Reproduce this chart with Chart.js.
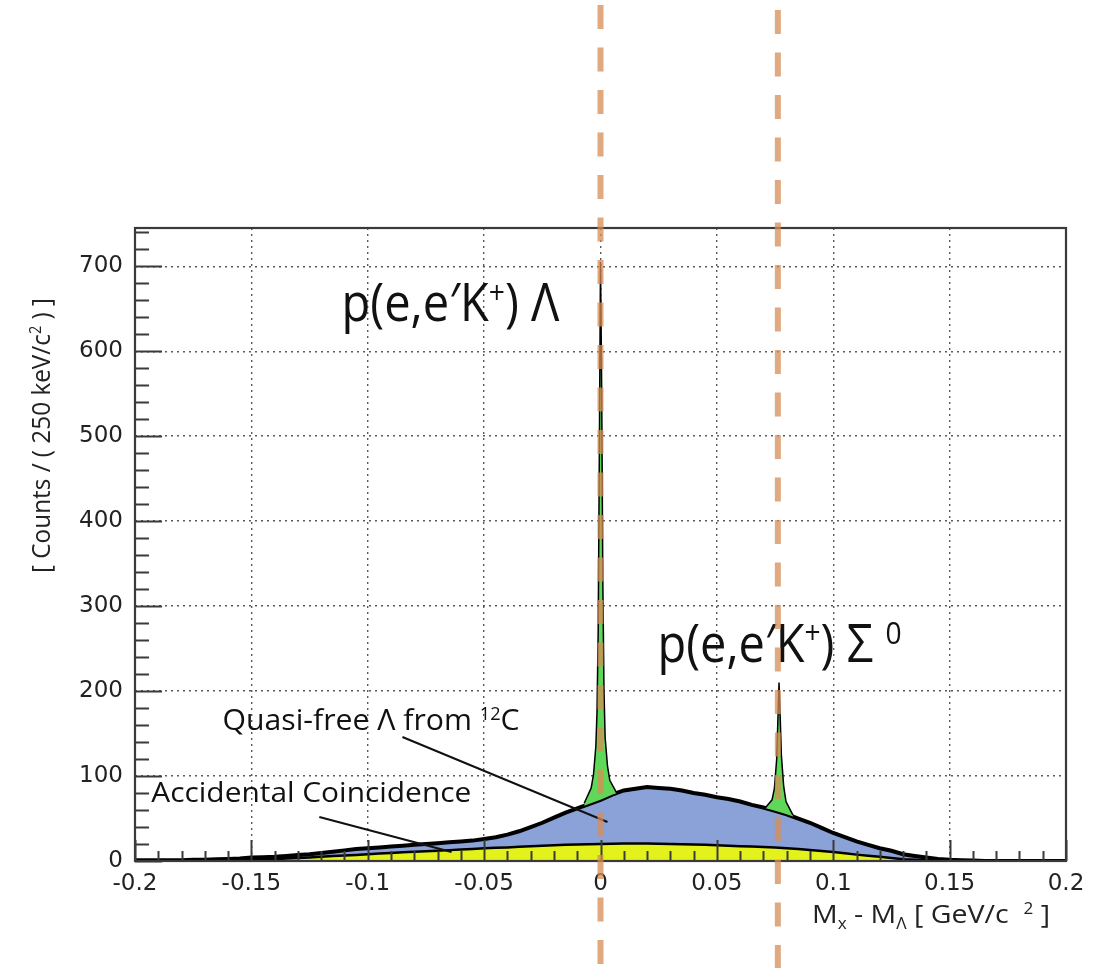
<!DOCTYPE html>
<html>
<head>
<meta charset="utf-8">
<script src="https://cdn.jsdelivr.net/npm/chart.js@4.4.0/dist/chart.umd.min.js"></script>
<style>
  html, body { margin: 0; padding: 0; background: #fff; }
  #wrap { width: 1107px; height: 968px; }
</style>
</head>
<body>
<div id="wrap"><canvas id="chart-masa" width="1107" height="968"></canvas></div>
<script>
// === DATOS ===
// eje x: Mx - M_Lambda [GeV/c^2], paso 0.005
const contX = [
  -0.2, -0.195, -0.19, -0.185, -0.18, -0.175, -0.17, -0.165, -0.16, -0.155,
  -0.15, -0.145, -0.14, -0.135, -0.13, -0.125, -0.12, -0.115, -0.11, -0.105,
  -0.1, -0.095, -0.09, -0.085, -0.08, -0.075, -0.07, -0.065, -0.06, -0.055,
  -0.05, -0.045, -0.04, -0.035, -0.03, -0.025, -0.02, -0.015, -0.01, -0.005,
  0,
  0.005, 0.01, 0.015, 0.02, 0.025, 0.03, 0.035, 0.04, 0.045, 0.05,
  0.055, 0.06, 0.065, 0.07, 0.075, 0.08, 0.085, 0.09, 0.095, 0.1,
  0.105, 0.11, 0.115, 0.12, 0.125, 0.13, 0.135, 0.14, 0.145, 0.15,
  0.155, 0.16, 0.165, 0.17, 0.175, 0.18, 0.185, 0.19, 0.195, 0.2
];

// coincidencias accidentales (amarillo)
const accidental = [
  0, 0, 0, 0, 0, 0, 0, 0, 0.3, 0.6,
  1, 1.5, 2, 2.8, 3.5, 4.2, 5, 5.8, 6.5, 7.2,
  8, 8.8, 9.5, 10.2, 11, 11.5, 12, 12.8, 13.5, 14.2,
  15, 15.5, 16, 16.8, 17.5, 18, 18.5, 19, 19.5, 19.8,
  20,
  20.3, 20.5, 20.5, 20.5, 20.3, 20, 19.8, 19.5, 19, 18.5,
  18, 17.5, 17, 16.5, 15.8, 15, 14, 13, 11.8, 10.5,
  9, 7.5, 6.2, 5, 3.5, 2.2, 1.4, 0.8, 0.4, 0.2,
  0, 0, 0, 0, 0, 0, 0, 0, 0, 0
];

// accidentales + Lambda cuasi-libre de 12C (tope azul)
const continuum = [
  1, 1, 1, 1, 1, 1.5, 1.5, 2, 2.5, 3,
  4, 4.5, 5, 6, 7, 8, 9.5, 11, 12.5, 14,
  15, 16, 17, 18, 19, 20, 21, 22, 23, 24,
  26, 28, 31, 35, 40, 45, 51, 57, 62, 67,
  72,
  78, 83, 85, 87, 86, 85, 83, 80, 78, 75,
  73, 70, 66, 63, 59, 55, 50, 45, 39, 33,
  28, 23, 19, 15, 12, 8, 6, 4, 2.5, 1.5,
  1, 0.5, 0, 0, 0, 0, 0, 0, 0, 0
];

// pico p(e,e'K+)Lambda (total)
const lambdaX = [-0.007, -0.004, -0.003, -0.002, -0.0015, -0.001, -0.0005, 0, 0.0005, 0.001, 0.0015, 0.002, 0.003, 0.004, 0.007];
const lambdaCounts = [68, 86, 102, 135, 175, 270, 480, 705, 560, 330, 200, 145, 112, 95, 80];

// pico p(e,e'K+)Sigma0 (total)
const sigmaX = [0.0707, 0.0737, 0.0747, 0.0757, 0.0762, 0.0767, 0.0772, 0.0777, 0.0787, 0.0797, 0.0827];
const sigmaCounts = [62, 72, 85, 120, 165, 210, 170, 125, 88, 70, 54];

const xTickValues = [-0.2, -0.15, -0.1, -0.05, 0, 0.05, 0.1, 0.15, 0.2];
const xTickLabels = ['-0.2', '-0.15', '-0.1', '-0.05', '0', '0.05', '0.1', '0.15', '0.2'];
const yTickValues = [0, 100, 200, 300, 400, 500, 600, 700];
const yTickLabels = ['0', '100', '200', '300', '400', '500', '600', '700'];

// lineas discontinuas (masas Lambda y Sigma0)
const markerX = [0, 0.0762];

// === TEXTOS ===
const FUENTE = '"Open Sans", "Noto Sans", sans-serif';

function dibujarTexto(ctx, partes, size, ancho) {
  const medida = partes.map(([t, tipo]) => {
    ctx.font = `${tipo ? size * 0.6 : size}px ${FUENTE}`;
    return ctx.measureText(t).width;
  });
  const total = medida.reduce((a, b) => a + b, 0);
  const k = ancho ? ancho / total : 1;
  ctx.save();
  ctx.scale(k, 1);
  let cx = 0;
  partes.forEach(([t, tipo], i) => {
    const s = tipo ? size * 0.6 : size;
    const dy = tipo === 'sup' ? -size * 0.33 : (tipo === 'sub' ? size * 0.22 : 0);
    ctx.font = `${s}px ${FUENTE}`;
    ctx.fillText(t, cx, dy);
    cx += medida[i];
  });
  ctx.restore();
}

// anotaciones en coordenadas de datos (x, cuentas)
const notas = [
  { x: -0.1113, y: 635, size: 53, ancho: 218, partes: [['p(e,e\u2032K'], ['+', 'sup'], [') \u039B']] },
  { x: 0.0245, y: 234.5, size: 53, ancho: 244, partes: [['p(e,e\u2032K'], ['+', 'sup'], [') \u03A3 '], ['0', 'sup']] },
  { x: -0.1624, y: 154.4, size: 30, ancho: 297, partes: [['Quasi-free \u039B from '], ['12', 'sup'], ['C']] },
  { x: -0.193, y: 69.5, size: 28, ancho: 320, partes: [['Accidental Coincidence']] }
];
const flechas = [
  [-0.0851, 145.9, 0.003, 45.9],
  [-0.1208, 51.8, -0.064, 10.6]
];

const extras = {
  id: 'extras',
  afterDraw(chart) {
    const { ctx, chartArea: a, scales: { x, y } } = chart;
    ctx.save();

    // marcas hacia adentro
    ctx.strokeStyle = '#3a3a3a';
    ctx.lineWidth = 2;
    ctx.beginPath();
    for (let v = 0; v <= 740; v += 20) {
      const py = Math.round(y.getPixelForValue(v)) + 0.5;
      const len = v % 100 === 0 ? 27 : 14;
      ctx.moveTo(a.left, py);
      ctx.lineTo(a.left + len, py);
    }
    for (let i = -20; i <= 20; i++) {
      const px = Math.round(x.getPixelForValue(i / 100)) + 0.5;
      const len = i % 5 === 0 ? 21 : 10;
      ctx.moveTo(px, a.bottom);
      ctx.lineTo(px, a.bottom - len);
    }
    ctx.stroke();

    // marco
    ctx.lineWidth = 2.2;
    ctx.strokeRect(a.left, a.top, a.right - a.left, a.bottom - a.top);

    // anotaciones
    ctx.fillStyle = '#111';
    ctx.textAlign = 'left';
    ctx.textBaseline = 'alphabetic';
    notas.forEach(n => {
      ctx.save();
      ctx.translate(x.getPixelForValue(n.x), y.getPixelForValue(n.y));
      dibujarTexto(ctx, n.partes, n.size, n.ancho);
      ctx.restore();
    });
    ctx.strokeStyle = '#111';
    ctx.lineWidth = 2;
    flechas.forEach(([x0, y0, x1, y1]) => {
      ctx.beginPath();
      ctx.moveTo(x.getPixelForValue(x0), y.getPixelForValue(y0));
      ctx.lineTo(x.getPixelForValue(x1), y.getPixelForValue(y1));
      ctx.stroke();
    });

    // titulos de ejes
    ctx.fillStyle = '#222';
    ctx.save();
    ctx.translate(a.right - 254, 923);
    dibujarTexto(ctx, [['M'], ['x', 'sub'], [' - M'], ['\u039B', 'sub'], [' [ GeV/c  '], ['2', 'sup'], [' ]']], 26, 238);
    ctx.restore();
    ctx.save();
    ctx.translate(50, 573);
    ctx.rotate(-Math.PI / 2);
    dibujarTexto(ctx, [['[ Counts / ( 250 keV/c'], ['2', 'sup'], [' ) ]']], 26, 275);
    ctx.restore();

    // lineas discontinuas naranjas sobre todo el lienzo
    ctx.strokeStyle = 'rgba(215,140,85,0.75)';
    ctx.lineWidth = 6;
    ctx.setLineDash([24, 18.5]);
    markerX.forEach((m, i) => {
      const px = x.getPixelForValue(m);
      ctx.beginPath();
      ctx.moveTo(px, i === 0 ? -37.5 : -32.5);
      ctx.lineTo(px, chart.height);
      ctx.stroke();
    });
    ctx.restore();
  }
};

// === GRAFICA ===
const puntos = (xs, ys) => xs.map((v, i) => ({ x: v, y: ys[i] }));
const fuenteTicks = { family: '"DejaVu Sans", sans-serif', size: 23 };

const ctxMasa = document.getElementById('chart-masa').getContext('2d');
const chartMasa = new Chart(ctxMasa, {
  type: 'line',
  data: {
    datasets: [
      {
        label: 'Accidental Coincidence',
        data: puntos(contX, accidental),
        borderColor: '#000',
        borderWidth: 2.5,
        backgroundColor: '#e4f21c',
        fill: 'origin',
        order: 2
      },
      {
        label: 'Quasi-free Lambda from 12C',
        data: puntos(contX, continuum),
        borderColor: '#000',
        borderWidth: 4,
        backgroundColor: '#8aa2d8',
        fill: 0,
        order: 3
      },
      {
        label: 'p(e,e\'K+) Lambda',
        data: puntos(lambdaX, lambdaCounts),
        borderColor: '#000',
        borderWidth: 1.5,
        backgroundColor: '#5fd85a',
        fill: 1,
        order: 0
      },
      {
        label: 'p(e,e\'K+) Sigma0',
        data: puntos(sigmaX, sigmaCounts),
        borderColor: '#000',
        borderWidth: 1.5,
        backgroundColor: '#5fd85a',
        fill: 1,
        order: 1
      }
    ]
  },
  options: {
    responsive: false,
    animation: false,
    layout: { padding: { top: 228, right: 41, left: 0, bottom: 0 } },
    elements: { point: { radius: 0 }, line: { tension: 0 } },
    plugins: {
      legend: { display: false },
      tooltip: { enabled: false }
    },
    scales: {
      x: {
        type: 'linear',
        min: -0.2,
        max: 0.2,
        afterBuildTicks: s => { s.ticks = xTickValues.map(v => ({ value: v })); },
        afterFit: s => { s.height = 107; },
        ticks: {
          callback: (v, i) => xTickLabels[i],
          font: fuenteTicks,
          color: '#222',
          padding: 9,
          maxRotation: 0,
          autoSkip: false
        },
        grid: { color: '#5a5a5a', lineWidth: 1.4, drawTicks: false },
        border: { display: false, dash: [2, 4] }
      },
      y: {
        min: 0,
        max: 745,
        afterBuildTicks: s => { s.ticks = yTickValues.map(v => ({ value: v })); },
        afterFit: s => { s.width = 135; },
        ticks: {
          callback: (v, i) => yTickLabels[i],
          font: fuenteTicks,
          color: '#222',
          padding: 12
        },
        grid: { color: '#5a5a5a', lineWidth: 1.4, drawTicks: false },
        border: { display: false, dash: [2, 4] }
      }
    }
  },
  plugins: [extras]
});
</script>
</body>
</html>
